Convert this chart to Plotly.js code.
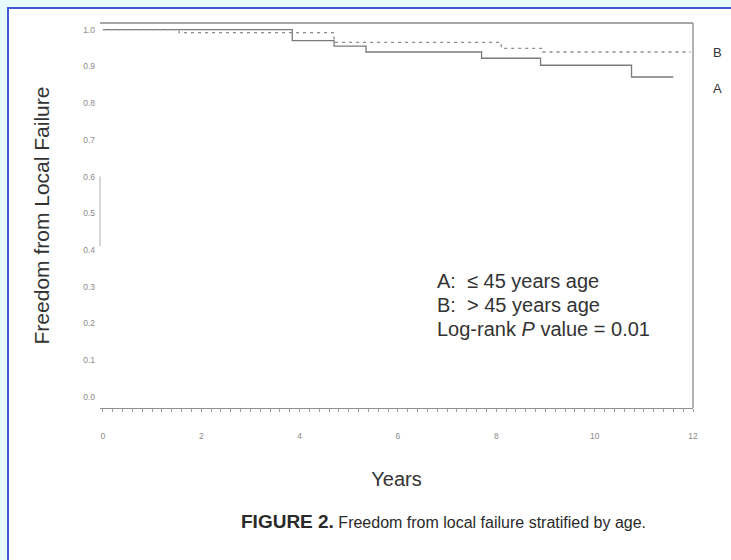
<!DOCTYPE html>
<html>
<head>
<meta charset="utf-8">
<script src="https://cdn.plot.ly/plotly-3.0.1.min.js"></script>
<style>
  html, body { margin: 0; padding: 0; width: 731px; height: 560px; overflow: hidden; background: #e6f9fd; }
  #sheet { position: absolute; left: 7px; top: 7px; width: 740px; height: 570px;
           background: #ffffff; border-left: 2px solid #4656d4; border-top: 2px solid #4656d4; }
  #chart { position: absolute; left: 0; top: 0; width: 731px; height: 560px; }
</style>
</head>
<body>
<div id="sheet"></div>
<div id="chart"></div>
<script>
// Kaplan-Meier step data: freedom from local failure by age group (years)
const timesA  = [0, 3.85, 4.7, 5.35, 7.7, 8.9, 10.75, 11.6];
const valuesA = [1.0, 0.970, 0.955, 0.939, 0.922, 0.903, 0.871, 0.871];   // A: <= 45 years
const timesB  = [0, 1.55, 4.7, 8.1, 8.95, 11.95];
const valuesB = [1.0, 0.992, 0.965, 0.949, 0.939, 0.939];                 // B: > 45 years

const yTickVals   = [0, 0.1, 0.2, 0.3, 0.4, 0.5, 0.6, 0.7, 0.8, 0.9, 1.0];
const yTickLabels = ['0.0', '0.1', '0.2', '0.3', '0.4', '0.5', '0.6', '0.7', '0.8', '0.9', '1.0'];
const xTickVals   = [0, 2, 4, 6, 8, 10, 12];
const xTickLabels = ['0', '2', '4', '6', '8', '10', '12'];

const traces = [
  { x: timesA, y: valuesA, type: 'scatter', mode: 'lines', name: 'A',
    line: { shape: 'hv', color: '#7a7a7a', width: 1.3 } },
  { x: timesB, y: valuesB, type: 'scatter', mode: 'lines', name: 'B',
    line: { shape: 'hv', color: '#8c8c8c', width: 1.3, dash: '3px,4px' } }
];

const sans = 'Liberation Sans, Arial, sans-serif';
const textFont = { family: sans, color: '#333333' };

const layout = {
  width: 731, height: 560,
  margin: { l: 100, r: 38, t: 23, b: 152 },
  paper_bgcolor: 'rgba(0,0,0,0)',
  plot_bgcolor: 'rgba(0,0,0,0)',
  showlegend: false,
  xaxis: {
    range: [-0.06, 12.0], tickvals: xTickVals, ticktext: xTickLabels,
    showgrid: false, zeroline: false, ticks: '',
    showline: true, linecolor: '#8f8f8f', linewidth: 1,
    minor: { dtick: 0.2, tick0: 0, ticks: 'outside', ticklen: 3, tickcolor: '#9a9a9a', showgrid: false },
    tickfont: { family: sans, size: 8.5, color: '#8a8a8a' },
    ticklabelstandoff: 20,
    title: { text: 'Years', font: Object.assign({ size: 20 }, textFont), standoff: 31 },
    automargin: false
  },
  yaxis: {
    range: [-0.03, 1.018], tickvals: yTickVals, ticktext: yTickLabels,
    showgrid: false, zeroline: false, ticks: '', showline: false,
    tickfont: { family: sans, size: 8.5, color: '#8a8a8a' },
    ticklabelstandoff: 4,
    title: { text: 'Freedom from Local Failure', font: Object.assign({ size: 21 }, textFont), standoff: 27 },
    automargin: false
  },
  shapes: [
    // top and right edges of the plot frame
    { type: 'line', xref: 'paper', yref: 'paper', x0: 0, x1: 1, y0: 1, y1: 1,
      line: { color: '#8a8a8a', width: 1.3 } },
    { type: 'line', xref: 'paper', yref: 'paper', x0: 1, x1: 1, y0: 0, y1: 1,
      line: { color: '#8a8a8a', width: 1.3 } },
    // surviving piece of the left frame edge
    { type: 'line', xref: 'paper', yref: 'y', x0: 0, x1: 0, y0: 0.41, y1: 0.60,
      line: { color: '#b0b0b0', width: 1 } }
  ],
  annotations: [
    { xref: 'paper', yref: 'paper', x: 0.565, y: (408 - 281) / 385, xanchor: 'left', yanchor: 'middle',
      showarrow: false, text: 'A:  \u2264 45 years age', font: Object.assign({ size: 20 }, textFont) },
    { xref: 'paper', yref: 'paper', x: 0.565, y: (408 - 305) / 385, xanchor: 'left', yanchor: 'middle',
      showarrow: false, text: 'B:  > 45 years age', font: Object.assign({ size: 20 }, textFont) },
    { xref: 'paper', yref: 'paper', x: 0.565, y: (408 - 329) / 385, xanchor: 'left', yanchor: 'middle',
      showarrow: false, text: 'Log-rank <i>P</i> value = 0.01', font: Object.assign({ size: 20 }, textFont) },
    { xref: 'paper', yref: 'paper', x: 1.042, y: 0.924, xanchor: 'center', yanchor: 'middle',
      showarrow: false, text: 'B', font: Object.assign({ size: 13 }, textFont) },
    { xref: 'paper', yref: 'paper', x: 1.042, y: 0.8305, xanchor: 'center', yanchor: 'middle',
      showarrow: false, text: 'A', font: Object.assign({ size: 13 }, textFont) },
    { xref: 'paper', yref: 'paper', x: 0.580, y: -0.296, xanchor: 'center', yanchor: 'middle',
      showarrow: false,
      text: '<b><span style="font-size:19px">FIGURE 2.</span></b> Freedom from local failure stratified by age.',
      font: { family: sans, size: 16, color: '#2a2a2a' } }
  ]
};

Plotly.newPlot('chart', traces, layout, { displayModeBar: false, staticPlot: true });
</script>
</body>
</html>
